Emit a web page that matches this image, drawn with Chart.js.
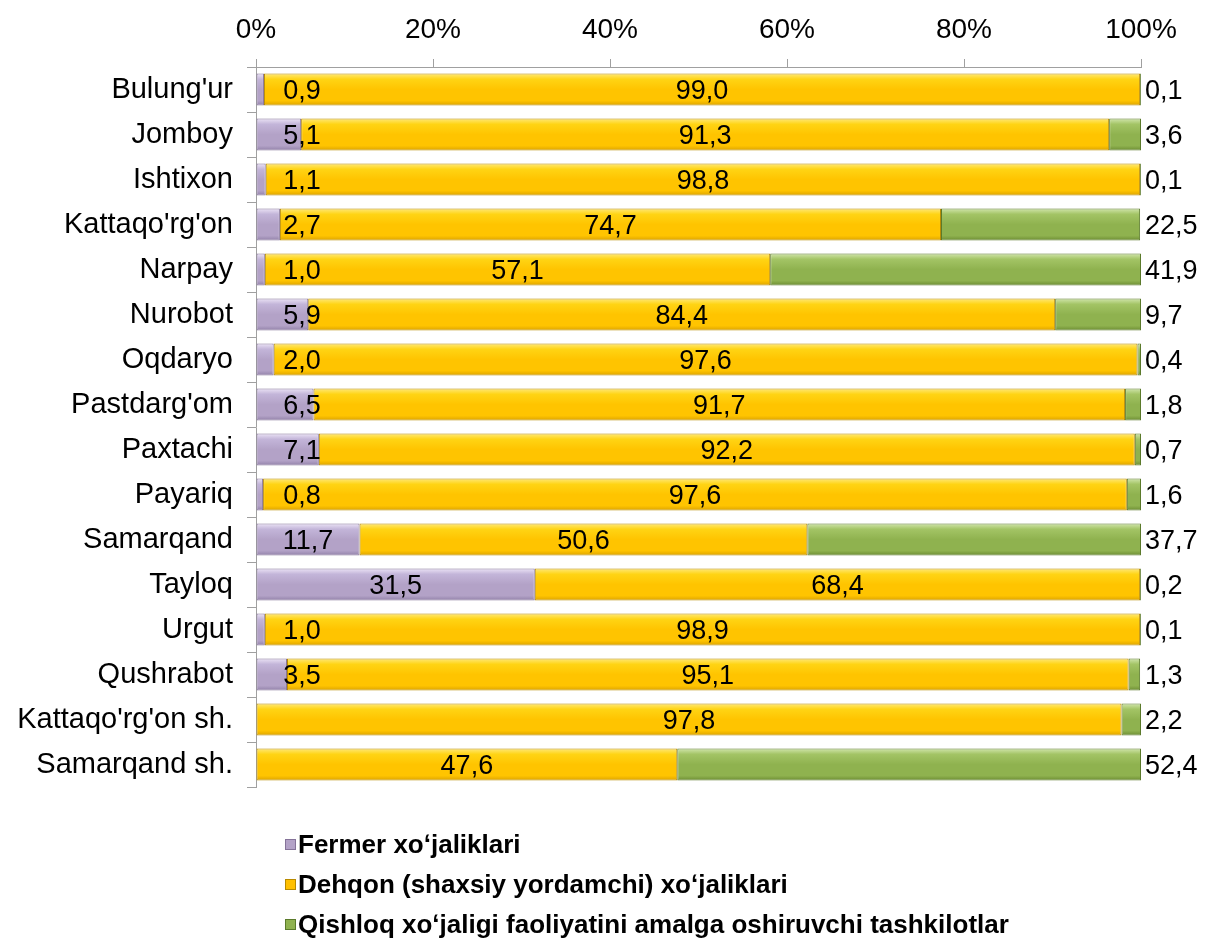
<!DOCTYPE html>
<html>
<head>
<meta charset="utf-8">
<script src="https://cdn.jsdelivr.net/npm/chart.js@4.4.1/dist/chart.umd.min.js"></script>
<style>
  html, body { margin: 0; padding: 0; background: #fff; }
  #wrap { width: 1205px; height: 939px; }
</style>
</head>
<body>
<div id="wrap"><canvas id="chart" width="1205" height="939"></canvas></div>
<script>
// Districts (top to bottom)
const categories = ["Bulung'ur", 'Jomboy', 'Ishtixon', "Kattaqo'rg'on", 'Narpay', 'Nurobot', 'Oqdaryo',
    "Pastdarg'om", 'Paxtachi', 'Payariq', 'Samarqand', 'Tayloq', 'Urgut', 'Qushrabot',
    "Kattaqo'rg'on sh.", 'Samarqand sh.'];

const seriesNames = ['Fermer xoʻjaliklari', 'Dehqon (shaxsiy yordamchi) xoʻjaliklari',
    'Qishloq xoʻjaligi faoliyatini amalga oshiruvchi tashkilotlar'];

const fermer = [0.9, 5.1, 1.1, 2.7, 1.0, 5.9, 2.0, 6.5, 7.1, 0.8, 11.7, 31.5, 1.0, 3.5, 0, 0];
const dehqon = [99.0, 91.3, 98.8, 74.7, 57.1, 84.4, 97.6, 91.7, 92.2, 97.6, 50.6, 68.4, 98.9, 95.1, 97.8, 47.6];
const tashkilot = [0.1, 3.6, 0.1, 22.5, 41.9, 9.7, 0.4, 1.8, 0.7, 1.6, 37.7, 0.2, 0.1, 1.3, 2.2, 52.4];

const xTicks = [0, 20, 40, 60, 80, 100];

const FONT = "'Liberation Sans', Arial, sans-serif";

// colour stops for the bevelled bars: [top, upper, middle, bottom]
const palettes = [
    { stops: ['#ece4f6', '#c3b5d9', '#b3a2c7', '#9181a8'], border: '#857399', legend: '#b3a2c7' },
    { stops: ['#ffe97a', '#ffd414', '#ffc400', '#dca300'], border: '#b88a00', legend: '#ffc000' },
    { stops: ['#d2e6ad', '#a3c465', '#8fb24f', '#6c8c33'], border: '#5b7a2b', legend: '#8fb24f' }
];

function bevelFill(idx) {
    return (ctx) => {
        const chart = ctx.chart;
        const p = palettes[idx];
        const y = chart.scales && chart.scales.y;
        if (!y || ctx.dataIndex === undefined || !chart.chartArea) return p.stops[2];
        const c = y.getPixelForValue(ctx.dataIndex);
        const h = 16;
        const g = chart.ctx.createLinearGradient(0, c - h, 0, c + h);
        g.addColorStop(0, p.stops[0]);
        g.addColorStop(0.18, p.stops[1]);
        g.addColorStop(0.5, p.stops[2]);
        g.addColorStop(0.85, p.stops[2]);
        g.addColorStop(1, p.stops[3]);
        return g;
    };
}

const fmt = v => v.toFixed(1).replace('.', ',');

// value labels: first series centred (but kept off the axis), second centred, third outside right
const labelPlugin = {
    id: 'valueLabels',
    afterDatasetsDraw(chart) {
        const ctx = chart.ctx;
        const area = chart.chartArea;
        ctx.save();
        ctx.font = '27px ' + FONT;
        ctx.fillStyle = '#000';
        ctx.textBaseline = 'middle';
        chart.data.datasets.forEach((ds, di) => {
            const meta = chart.getDatasetMeta(di);
            meta.data.forEach((bar, i) => {
                const v = ds.data[i];
                if (!v) return;
                const left = Math.min(bar.x, bar.base);
                const right = Math.max(bar.x, bar.base);
                let x = (left + right) / 2;
                let align = 'center';
                if (di === 0) {
                    x = Math.max(x, area.left + 46);
                } else if (di === 2) {
                    x = area.right + 4;
                    align = 'left';
                }
                ctx.textAlign = align;
                ctx.fillText(fmt(v), x, bar.y + 2);
            });
        });
        ctx.restore();
    }
};

// legend: one entry per line under the plot
const legendPlugin = {
    id: 'stackLegend',
    afterDraw(chart) {
        const ctx = chart.ctx;
        ctx.save();
        ctx.font = 'bold 26px ' + FONT;
        ctx.textBaseline = 'middle';
        ctx.textAlign = 'left';
        chart.data.datasets.forEach((ds, di) => {
            const y = 845 + di * 40;
            const p = palettes[di];
            ctx.fillStyle = p.legend;
            ctx.fillRect(285, y - 6, 11, 11);
            ctx.strokeStyle = p.border;
            ctx.lineWidth = 1;
            ctx.strokeRect(285.5, y - 5.5, 10, 10);
            ctx.fillStyle = '#000';
            ctx.fillText(ds.label, 298, y + 1);
        });
        ctx.restore();
    }
};

const datasets = [fermer, dehqon, tashkilot].map((values, i) => ({
    label: seriesNames[i],
    data: values,
    backgroundColor: bevelFill(i),
    borderColor: palettes[i].border,
    borderWidth: 1,
    borderSkipped: false,
    barPercentage: 0.71,
    categoryPercentage: 1.0
}));

new Chart(document.getElementById('chart'), {
    type: 'bar',
    data: { labels: categories, datasets: datasets },
    plugins: [labelPlugin, legendPlugin],
    options: {
        indexAxis: 'y',
        responsive: false,
        animation: false,
        layout: { padding: { left: 0, right: 64, top: 0, bottom: 152 } },
        plugins: {
            legend: { display: false },
            tooltip: { enabled: false }
        },
        scales: {
            x: {
                position: 'top',
                stacked: true,
                min: 0,
                max: 100,
                afterBuildTicks: axis => { axis.ticks = xTicks.map(v => ({ value: v })); },
                afterFit: axis => { axis.height = 67; },
                ticks: {
                    callback: v => v + '%',
                    color: '#000',
                    font: { family: FONT, size: 28 },
                    padding: 12,
                    maxRotation: 0
                },
                grid: { drawOnChartArea: false, tickLength: 8, color: '#a0a0a0' },
                border: { color: '#a0a0a0' }
            },
            y: {
                stacked: true,
                afterFit: axis => { axis.width = 256; },
                ticks: {
                    color: '#000',
                    font: { family: FONT, size: 29 },
                    padding: 14
                },
                grid: { drawOnChartArea: false, tickLength: 9, offset: true, color: '#a0a0a0' },
                border: { color: '#a0a0a0' }
            }
        }
    }
});
</script>
</body>
</html>
